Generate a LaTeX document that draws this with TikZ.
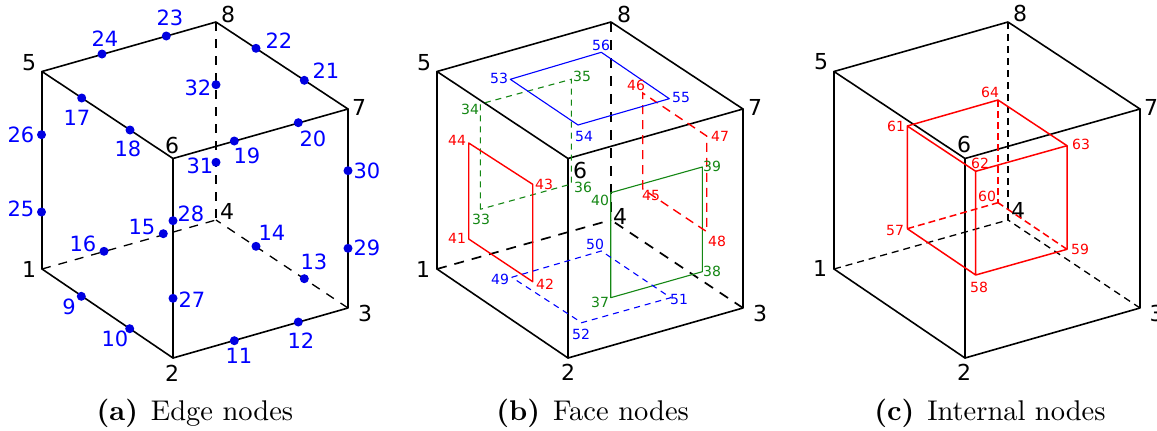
\documentclass[tikz,border=0pt]{standalone}
\usepackage{fontspec}
\usepackage{graphicx}
\newfontfamily\dejavu{DejaVu Sans}
\definecolor{nblue}{RGB}{0,0,255}
\definecolor{dotblue}{RGB}{0,0,225}
\definecolor{ngreen}{RGB}{20,135,20}
\definecolor{nred}{RGB}{255,0,0}
\tikzset{
  cubeedge/.style={draw=black,line width=1.6pt,line cap=round,line join=round},
  hid/.style={draw=black,line width=1.3pt,dash pattern=on 9pt off 8pt},
  vlab/.style={inner sep=0pt,font=\dejavu\fontsize{22}{24}\selectfont,text=black},
  elab/.style={inner sep=0pt,font=\dejavu\fontsize{21}{24}\selectfont,text=nblue},
  flab/.style={inner sep=0pt,font=\dejavu\fontsize{14}{16}\selectfont},
  ndot/.style={circle,fill=dotblue,draw=none,inner sep=0pt,minimum size=9pt},
  captext/.style={inner sep=0pt,font=\fontsize{10}{12}\selectfont},
  solidface/.style={line width=1.1pt,line join=round},
  hidface/.style={line width=1.1pt,dash pattern=on 6pt off 5pt},
}
\newcommand{\captiontext}[2]{\scalebox{2.85}{\textbf{(#1)}\hspace{0.45em}#2}}
\newcommand{\cubecorners}[2]{%
  \coordinate (#11) at (#2+42,269);
  \coordinate (#12) at (#2+173,358);
  \coordinate (#13) at (#2+348,308);
  \coordinate (#14) at (#2+216,220);
  \coordinate (#15) at (#2+42,71.5);
  \coordinate (#16) at (#2+173,158.5);
  \coordinate (#17) at (#2+348,109);
  \coordinate (#18) at (#2+216,22);
}
\newcommand{\cubeedges}[1]{%
  \draw[cubeedge] (#15) -- (#18) -- (#17) -- (#16) -- cycle;
  \draw[cubeedge] (#11) -- (#12) -- (#13) -- (#17);
  \draw[cubeedge] (#11) -- (#15);
  \draw[cubeedge] (#12) -- (#16);
}
\begin{document}
\begin{tikzpicture}[x=1pt,y=-1pt]
\useasboundingbox (0,0) rectangle (1157,431);
\fill[white] (0,0) rectangle (1157,431);

%% ---------- panel (a)
\cubecorners{a}{0}
\draw[hid] (a1) -- (a4);
\draw[hid] (a3) -- (a4);
\draw[hid] (a8) -- (a4);
\cubeedges{a}
\foreach \n/\x/\y in {1/29/269,2/172/373,3/365/313,4/227/211,5/29/63,6/172/145,7/359/107,8/228/14}
  \node[vlab] (avl\n) at (\x,\y) {\n};
\foreach \n/\dx/\dy/\lx/\ly in {
  9/81.3/296.3/69/307, 10/129.7/328.7/115/339, 11/234.3/340.7/239/356, 12/298.3/322/301/341,
  13/304.3/278.7/314/262, 14/256/246.3/272/233, 15/163.3/233.7/142/227, 16/104/251.3/83/244,
  17/81.7/98/77/118, 18/130/130/128/149, 19/234.3/141/247/156, 20/298.3/122.7/313/139,
  21/304.3/80.3/326/71, 22/256/48.3/279/41, 23/166.3/36/170/18, 24/102/54/105/39,
  25/41.5/212/21/209, 26/41.5/134.7/21/135, 27/173/298.3/192/300, 28/173/220.7/191/214,
  29/348/248.3/367/248, 30/348/170.7/367/171, 31/216/162.3/200/166, 32/216/84.7/198/88}{
  \node[ndot] (n\n) at (\dx,\dy) {};
  \node[elab] (l\n) at (\lx,\ly) {\n};
}
\node[captext] (capa) at (195,413) {\captiontext{a}{Edge nodes}};

%% ---------- panel (b)
\cubecorners{b}{395}
\draw[hid,line width=1.7pt,dash pattern=on 10pt off 8pt] (b1) -- (b4);
\draw[hid,line width=1.7pt,dash pattern=on 10pt off 8pt] (b3) -- (b4);
\draw[hid,line width=1.7pt,dash pattern=on 10pt off 8pt] (b8) -- (b4);
\cubeedges{b}
\foreach \n/\x/\y in {1/423/269,2/568/372,3/760/313,4/620/216,5/424/63,6/580/170,7/755/107,8/624/14}
  \node[vlab] (bvl\n) at (\x,\y) {\n};
\foreach \n/\x/\y in {33/480.3/209.3,34/480.3/104,35/571.3/79.3,36/571.3/184,37/610.7/297.7,38/702.3/271.7,39/702.3/167,40/610.7/192.7,
  41/468.7/239,42/532.7/281.7,43/532.7/184.3,44/468.7/143,45/642.7/189,46/642.7/93,47/706.7/136,48/706.7/231.7,
  49/511.7/277.3,50/601.3/251,51/670.7/297.7,52/581.7/322.7,53/510.3/79.3,54/578/125,55/669.3/98.7,56/601.3/52.3}
  \coordinate (n\n) at (\x,\y);
\draw[hidface,ngreen] (n33) -- (n34) -- (n35) -- (n36) -- cycle;
\draw[solidface,ngreen] (n37) -- (n38) -- (n39) -- (n40) -- cycle;
\draw[solidface,nred,line width=1.4pt] (n41) -- (n42) -- (n43) -- (n44) -- cycle;
\draw[hidface,nred,line width=1.4pt,dash pattern=on 9pt off 6pt] (n45) -- (n46) -- (n47) -- (n48) -- cycle;
\draw[hidface,nblue] (n49) -- (n50) -- (n51) -- (n52) -- cycle;
\draw[solidface,nblue] (n53) -- (n54) -- (n55) -- (n56) -- cycle;
\foreach \n/\x/\y in {33/481/219,34/470/109,35/582/76,36/583/187,37/600/302,38/712/271,39/712/166,40/600/200}
  \node[flab,text=ngreen] (l\n) at (\x,\y) {\n};
\foreach \n/\x/\y in {41/457/238,42/545/284,43/544/184,44/457/140,45/651/195,46/636/85,47/720/136,48/717/241}
  \node[flab,text=nred] (l\n) at (\x,\y) {\n};
\foreach \n/\x/\y in {49/500/279,50/595/244,51/679/299,52/581/334,53/499/78,54/584/136,55/681/97,56/601/45}
  \node[flab,text=nblue] (l\n) at (\x,\y) {\n};
\node[captext] (capb) at (592.7,413) {\captiontext{b}{Face nodes}};

%% ---------- panel (c)
\cubecorners{c}{792}
\draw[hid,dash pattern=on 7pt off 5pt] (c1) -- (c4);
\draw[hid,dash pattern=on 7pt off 5pt] (c3) -- (c4);
\draw[hid,dash pattern=on 7pt off 5pt] (c8) -- (c4);
\cubeedges{c}
\foreach \n/\x/\y in {1/820/268,2/964/372,3/1156.5/313,4/1018/210,5/821/62,6/964/144,7/1151/107,8/1020/13}
  \node[vlab] (cvl\n) at (\x,\y) {\n};
\foreach \n/\x/\y in {57/907.3/228.7,58/975.7/275,59/1067/249.3,60/998/202.7,61/907.3/126,62/975.7/171.3,63/1067/145.7,64/998/100}
  \coordinate (n\n) at (\x,\y);
\draw[nred,line width=1.5pt,dash pattern=on 7pt off 4pt] (n57) -- (n60);
\draw[nred,line width=1.5pt,dash pattern=on 7pt off 4pt] (n59) -- (n60);
\draw[nred,line width=1.5pt,dash pattern=on 7pt off 4pt] (n64) -- (n60);
\draw[nred,line width=1.5pt,line join=round] (n57) -- (n58) -- (n59) -- (n63) -- (n62) -- (n58);
\draw[nred,line width=1.5pt,line join=round] (n57) -- (n61) -- (n62);
\draw[nred,line width=1.5pt,line join=round] (n61) -- (n64) -- (n63);
\foreach \n/\x/\y in {57/895/230,58/979/287,59/1080/249,60/987/196,61/896/126,62/980/163,63/1081/144,64/990/92}
  \node[flab,text=nred] (l\n) at (\x,\y) {\n};
\node[captext] (capc) at (990,413) {\captiontext{c}{Internal nodes}};
\end{tikzpicture}
\end{document}
